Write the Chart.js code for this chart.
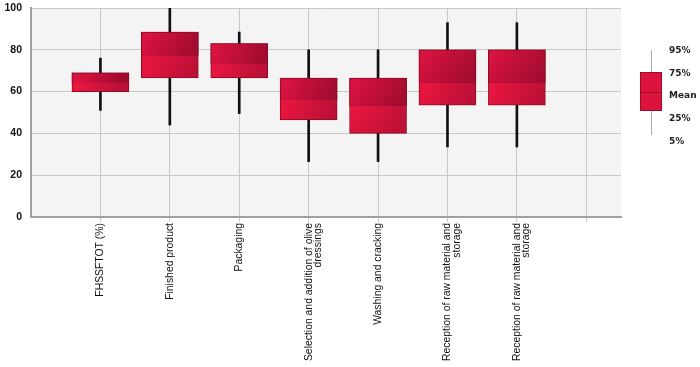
<!DOCTYPE html>
<html>
<head>
<meta charset="utf-8">
<script src="https://cdn.jsdelivr.net/npm/chart.js@4.4.1/dist/chart.umd.min.js"></script>
<style>
  html, body { margin: 0; padding: 0; background: #fff; }
  #wrap { width: 700px; height: 367px; position: relative; }
</style>
</head>
<body>
<div id="wrap"><canvas id="boxChart"></canvas></div>
<script>
// categories and percentiles
const categories = [
  "FHSSFTOT (%)",
  "Finished product",
  "Packaging",
  ["Selection and addition of olive", "dressings"],
  "Washing and cracking",
  ["Reception of raw material and", "storage"],
  ["Reception of raw material and", "storage"],
];
const p5 = [51, 44, 49.5, 26.5, 26.5, 33.5, 33.5];
const p25 = [60, 66.5, 66.5, 46.5, 40, 53.5, 53.5];
const meanVals = [64, 77, 73, 56, 53, 64, 64];
const p75 = [69, 88.5, 83, 66.5, 66.5, 80, 80];
const p95 = [76, 100, 88.5, 80, 80, 93, 93];
const legendLabels = ["95%", "75%", "Mean", "25%", "5%"];

const pos = categories.map((c, i) => i + 1);

// diagonal shading; lower part shaded from the mean down
function boxGradient(dark) {
  return function (context) {
    const chart = context.chart;
    if (!chart.chartArea || context.raw == null) return dark ? "#b40f33" : "#d4143d";
    const xs = chart.scales.x, ys = chart.scales.y;
    const i = context.dataIndex;
    const cx = xs.getPixelForValue(context.raw.x);
    const y0 = ys.getPixelForValue(dark ? p75[i] : meanVals[i]);
    const y1 = ys.getPixelForValue(dark ? meanVals[i] : p25[i]);
    const g = chart.ctx.createLinearGradient(cx - 20, y0, cx + 20, y1);
    if (dark) {
      g.addColorStop(0, "#d8133f");
      g.addColorStop(1, "#a20c2f");
    } else {
      g.addColorStop(0, "#e6163f");
      g.addColorStop(1, "#bc1036");
    }
    return g;
  };
}

const plotBg = {
  id: "plotBg",
  beforeDraw(chart) {
    const { ctx, chartArea: a } = chart;
    ctx.save();
    ctx.fillStyle = "#f4f4f4";
    ctx.fillRect(a.left, a.top, a.right - a.left, a.bottom - a.top);
    ctx.restore();
  },
};

// box-plot key on the right
const boxKey = {
  id: "boxKey",
  afterDraw(chart) {
    const ctx = chart.ctx;
    ctx.save();
    ctx.strokeStyle = "#aaaaaa";
    ctx.lineWidth = 1;
    ctx.beginPath();
    ctx.moveTo(651.5, 50);
    ctx.lineTo(651.5, 135);
    ctx.stroke();
    ctx.fillStyle = "#dc143c";
    ctx.fillRect(640, 72, 22, 39);
    ctx.strokeStyle = "#9c0c2c";
    ctx.strokeRect(640.5, 72.5, 21, 38);
    ctx.beginPath();
    ctx.moveTo(640, 92.5);
    ctx.lineTo(662, 92.5);
    ctx.stroke();
    ctx.fillStyle = "#222";
    ctx.font = "bold 9px 'DejaVu Sans'";
    ctx.textBaseline = "middle";
    const ys = [51, 74, 96, 119, 142];
    legendLabels.forEach((t, i) => ctx.fillText(t, 669, ys[i]));
    ctx.restore();
  },
};

new Chart(document.getElementById("boxChart"), {
  type: "bar",
  data: {
    datasets: [
      {
        label: "5-95",
        data: pos.map((x, i) => ({ x: x, y: [p5[i], p95[i]] })),
        backgroundColor: "#111",
        barThickness: 2,
        grouped: false,
        order: 3,
      },
      {
        label: "mean-75",
        data: pos.map((x, i) => ({ x: x, y: [meanVals[i], p75[i]] })),
        backgroundColor: boxGradient(true),
        borderColor: "#8c0a24",
        borderWidth: 1,
        borderSkipped: "bottom",
        barThickness: 57,
        grouped: false,
        order: 1,
      },
      {
        label: "25-75",
        data: pos.map((x, i) => ({ x: x, y: [p25[i], p75[i]] })),
        backgroundColor: boxGradient(false),
        borderColor: "#8c0a24",
        borderWidth: 1,
        borderSkipped: false,
        barThickness: 57,
        grouped: false,
        order: 2,
      },
    ],
  },
  options: {
    responsive: true,
    maintainAspectRatio: false,
    animation: false,
    layout: { padding: { top: 8, right: 79, left: 0, bottom: 0 } },
    plugins: {
      legend: { display: false },
      tooltip: { enabled: false },
    },
    scales: {
      x: {
        type: "linear",
        min: 0,
        max: 8.5,
        offset: false,
        afterBuildTicks(scale) {
          scale.ticks = [1, 2, 3, 4, 5, 6, 7, 8].map((v) => ({ value: v }));
        },
        afterFit(scale) {
          scale.height = 150;
          scale.paddingLeft = 0;
          scale.paddingRight = 0;
        },
        grid: { color: "#c8c8c8", lineWidth: 1, tickLength: 5, offset: false },
        border: { color: "#a0a0a0", width: 2 },
        ticks: {
          autoSkip: false,
          maxRotation: 90,
          minRotation: 90,
          padding: 1,
          color: "#111",
          font: { family: "'Liberation Sans', Arial", size: 10.4, lineHeight: 0.9 },
          callback: (v) => categories[v - 1] || "",
        },
      },
      y: {
        min: 0,
        max: 100,
        afterFit(scale) {
          scale.width = 31;
          scale.paddingTop = 0;
          scale.paddingBottom = 0;
        },
        grid: { color: "#c8c8c8", lineWidth: 1, drawTicks: false },
        border: { color: "#a0a0a0", width: 2 },
        ticks: {
          stepSize: 20,
          padding: 9,
          color: "#111",
          font: { family: "'Liberation Sans', Arial", size: 10.5, weight: "bold" },
        },
      },
    },
  },
  plugins: [plotBg, boxKey],
});
</script>
</body>
</html>
